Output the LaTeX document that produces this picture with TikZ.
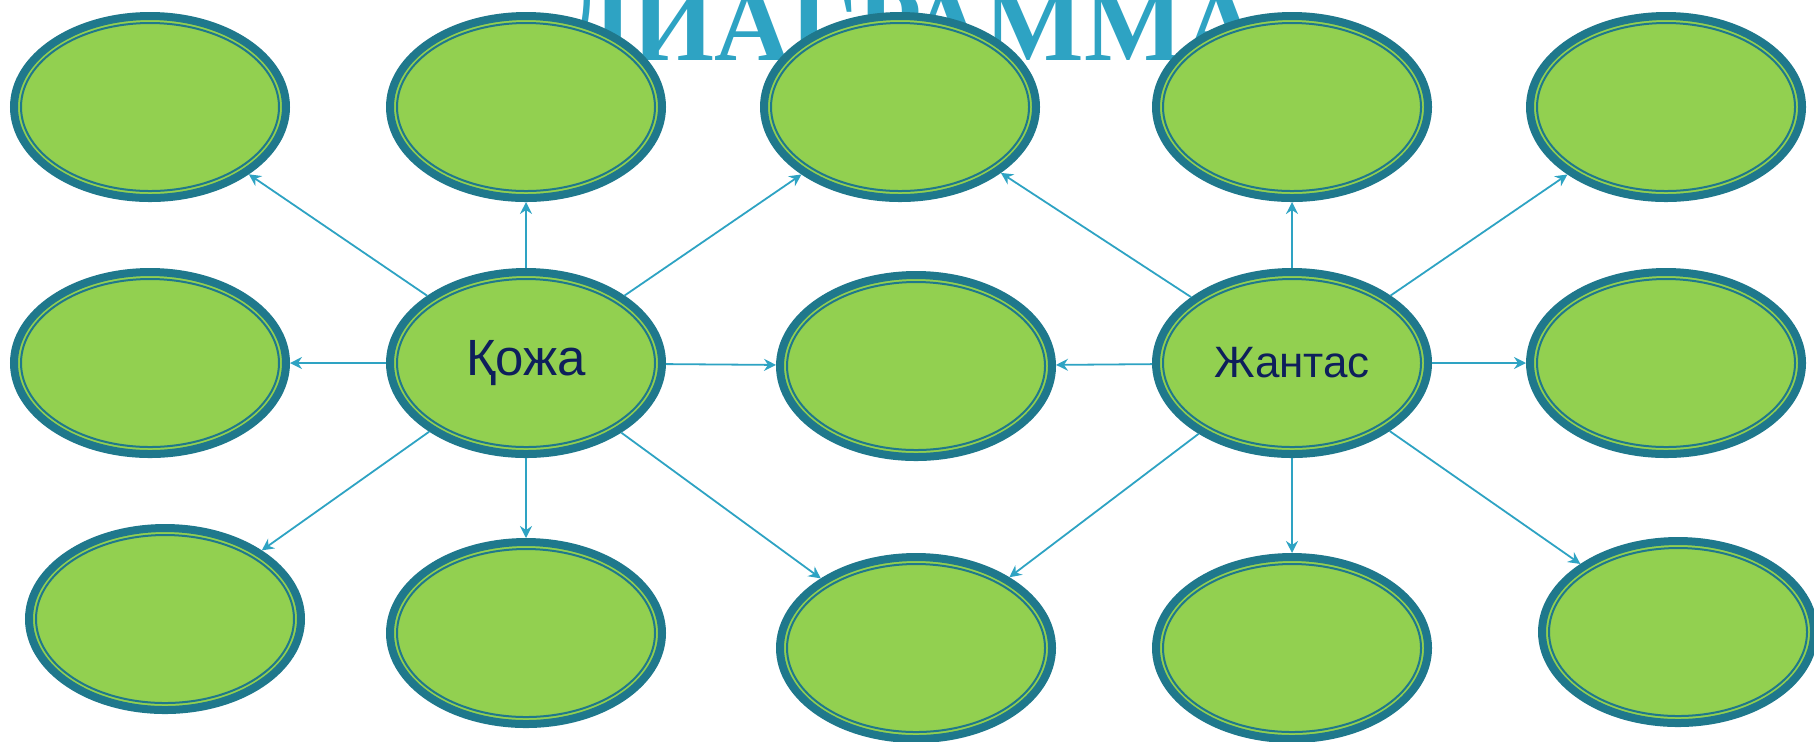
\documentclass[tikz,border=0pt]{standalone}
\usepackage{fontspec}
\setmainfont{Liberation Sans}
\newfontfamily\titlefont{Liberation Serif}
\usetikzlibrary{shapes.geometric, arrows.meta, positioning}
\definecolor{ringteal}{HTML}{1F788C}
\definecolor{leafgreen}{HTML}{92D050}
\definecolor{linkblue}{HTML}{2EA3C3}
\definecolor{inknavy}{HTML}{0E1F5B}

\begin{document}
\begin{tikzpicture}[
    bubble/.style={ellipse, draw=ringteal, line width=0.8mm, fill=leafgreen, minimum width=27.2mm, minimum height=18.2mm, inner sep=0pt, font=\fontsize{12.5}{14}\selectfont, text=inknavy,
        path picture={\draw[ringteal, line width=0.2mm] (path picture bounding box.center) ellipse [x radius=12.9mm, y radius=8.4mm];}},
    arrow/.style={-{Stealth[length=1.2mm, width=1.2mm, inset=0.4mm]}, draw=linkblue, line width=0.18mm}
]
\useasboundingbox (0,0) rectangle (18.14,-7.41);
\clip (0,0) rectangle (18.14,-7.41);

% Title, half hidden behind the top row
\node[font=\titlefont\bfseries\fontsize{30}{32}\selectfont, text=linkblue, anchor=base] (title) at (9.10,-0.60) {ДИАГРАММА};

% Top row
\node[bubble] (t1) at (1.50,-1.07) {};
\node[bubble] (t2) at (5.26,-1.07) {};
\node[bubble] (t3) at (9.00,-1.07) {};
\node[bubble] (t4) at (12.92,-1.07) {};
\node[bubble] (t5) at (16.66,-1.07) {};

% Middle row
\node[bubble] (m1) at (1.50,-3.63) {};
\node[bubble, font=\fontsize{14.5}{16}\selectfont] (kozha) at (5.26,-3.63) {Қожа};
\node[bubble] (m3) at (9.16,-3.66) {};
\node[bubble] (zhantas) at (12.92,-3.63) {Жантас};
\node[bubble] (m5) at (16.66,-3.63) {};

% Bottom row
\node[bubble] (b1) at (1.65,-6.19) {};
\node[bubble] (b2) at (5.26,-6.33) {};
\node[bubble] (b3) at (9.16,-6.48) {};
\node[bubble] (b4) at (12.92,-6.48) {};
\node[bubble] (b5) at (16.78,-6.32) {};

% Қожа
\draw[arrow] (kozha) -- (t1);
\draw[arrow] (kozha) -- (t2);
\draw[arrow] (kozha) -- (t3);
\draw[arrow] (kozha) -- (m1);
\draw[arrow] (kozha) -- (m3);
\draw[arrow] (kozha) -- (b1);
\draw[arrow] (kozha) -- (b2);
\draw[arrow] (kozha) -- (b3);

% Жантас
\draw[arrow] (zhantas) -- (t3);
\draw[arrow] (zhantas) -- (t4);
\draw[arrow] (zhantas) -- (t5);
\draw[arrow] (zhantas) -- (m3);
\draw[arrow] (zhantas) -- (m5);
\draw[arrow] (zhantas) -- (b3);
\draw[arrow] (zhantas) -- (b4);
\draw[arrow] (zhantas) -- (b5);

\end{tikzpicture}
\end{document}
